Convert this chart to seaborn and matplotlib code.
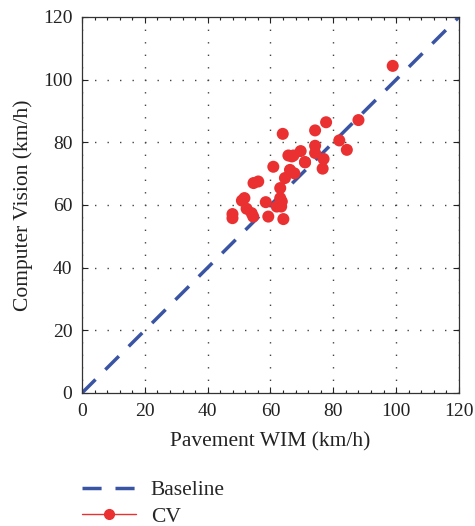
import matplotlib
matplotlib.use("Agg")
import matplotlib.pyplot as plt
import seaborn as sns
import pandas as pd
from matplotlib.lines import Line2D
from matplotlib.ticker import MultipleLocator

# speed pairs (km/h)
wim_speed = [98.9, 88.0, 77.7, 74.2, 63.9, 81.9, 84.3, 74.2, 74.2, 69.6,
             65.7, 67.3, 76.9, 71.0, 76.6, 60.9, 66.2, 67.6, 64.6, 54.6,
             56.1, 63.1, 51.7, 50.9, 58.5, 63.1, 63.6, 62.0, 63.4, 52.4,
             54.0, 54.5, 47.9, 47.9, 59.3, 64.1, 66.8, 71.0]
cv_speed = [104.4, 87.1, 86.4, 83.8, 82.7, 80.6, 77.6, 78.9, 76.6, 77.2,
            75.8, 75.8, 74.7, 73.6, 71.6, 72.2, 71.2, 70.1, 68.6, 67.0,
            67.5, 65.4, 62.2, 61.4, 60.9, 62.2, 61.1, 59.5, 59.5, 58.8,
            57.4, 56.3, 57.1, 55.8, 56.3, 55.5, 75.5, 73.7]
baseline = [0, 120]

df = pd.DataFrame({"wim": wim_speed, "cv": cv_speed})

sns.set_style("ticks")
plt.rcParams["font.family"] = ["Liberation Serif", "DejaVu Serif"]

fig = plt.figure(figsize=(4.75, 5.26), dpi=100)
ax = fig.add_axes([0.1726, 0.2529, 0.7937, 0.7148])

blue = "#3a54a4"
red = "#ea3030"

sns.lineplot(x=baseline, y=baseline, ax=ax, color=blue, linewidth=2.5,
             linestyle=(0, (5.5, 4)), zorder=2)
sns.scatterplot(data=df, x="wim", y="cv", ax=ax, color=red, s=75,
                edgecolor="none", zorder=3)

ax.set_xlim(0, 120)
ax.set_ylim(0, 120)
ax.xaxis.set_major_locator(MultipleLocator(20))
ax.yaxis.set_major_locator(MultipleLocator(20))
ax.xaxis.set_minor_locator(MultipleLocator(4))
ax.grid(True, which="major", color="#444444", linewidth=1.0,
        linestyle=(0, (1, 8)))
ax.tick_params(which="both", direction="in", top=True, right=True,
               labelsize=14, colors="#222222", width=0.8)
ax.tick_params(which="major", length=4, pad=7)
ax.tick_params(which="minor", length=2)
for s in ax.spines.values():
    s.set_color("#333333")
    s.set_linewidth(0.9)

ax.set_xlabel("Pavement WIM (km/h)", fontsize=15.5, color="#222222",
              labelpad=9)
ax.set_ylabel("Computer Vision (km/h)", fontsize=15.5, color="#222222",
              labelpad=7)

handles = [
    Line2D([], [], color=blue, linewidth=2.5, linestyle=(0, (5.5, 4))),
    Line2D([], [], color=red, linewidth=1, marker="o", markersize=7),
]
fig.legend(handles, ["Baseline", "CV"], loc="upper left",
           bbox_to_anchor=(0.1726, 0.087), borderaxespad=0, borderpad=0,
           frameon=False, fontsize=15.5, handlelength=2.5,
           handletextpad=0.7, labelspacing=0.3)

fig.savefig("out.png", dpi=100)
